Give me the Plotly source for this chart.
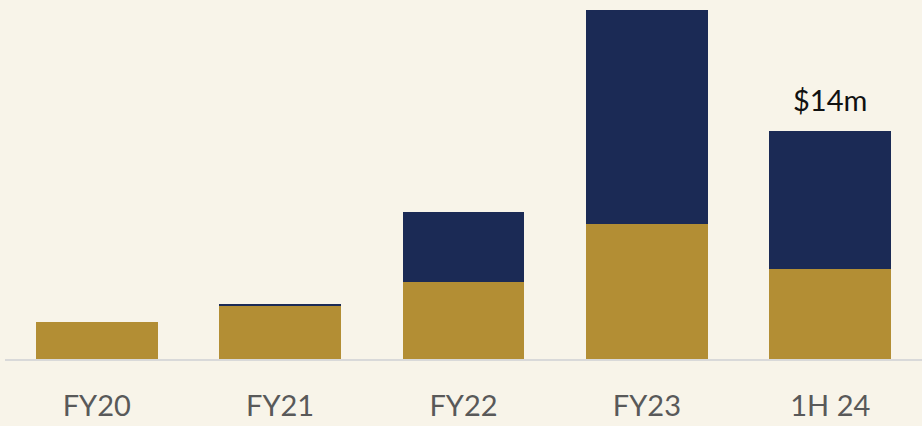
import plotly.graph_objects as go

categories = ["FY20", "FY21", "FY22", "FY23", "1H 24"]
gold_values = [2.3, 3.3, 4.7, 8.3, 5.5]
navy_values = [0.0, 0.1, 4.3, 13.1, 8.5]
total_label = "$14m"

GOLD = "#B38E34"
NAVY = "#1B2A55"
BG = "#F8F4E9"

fig = go.Figure()
fig.add_trace(go.Bar(x=categories, y=gold_values, marker=dict(color=GOLD, line=dict(width=0)), width=0.665))
fig.add_trace(go.Bar(x=categories, y=navy_values, marker=dict(color=NAVY, line=dict(width=0)), width=0.665))

total = gold_values[-1] + navy_values[-1]
fig.add_annotation(x=categories[-1], y=total, text=total_label, showarrow=False,
                   yanchor="bottom", yshift=12,
                   font=dict(family="Lato", size=29, color="#111111"))

fig.update_layout(
    barmode="stack",
    width=922, height=426,
    paper_bgcolor=BG, plot_bgcolor=BG,
    margin=dict(l=5, r=0, t=0, b=67, autoexpand=False),
    showlegend=False,
    xaxis=dict(showline=True, linecolor="#D9D9D9", linewidth=2, showgrid=False,
               automargin=False,
               ticks="", tickfont=dict(family="Lato", size=29, color="#595959"),
               ticklabelstandoff=20),
    yaxis=dict(range=[0, 22.04], visible=False, showgrid=False, zeroline=False),
)
fig.write_html("out.html", config={"displayModeBar": False},
               post_script="document.body.style.margin='0';document.body.style.overflow='hidden';document.body.style.background='%s';" % BG)
